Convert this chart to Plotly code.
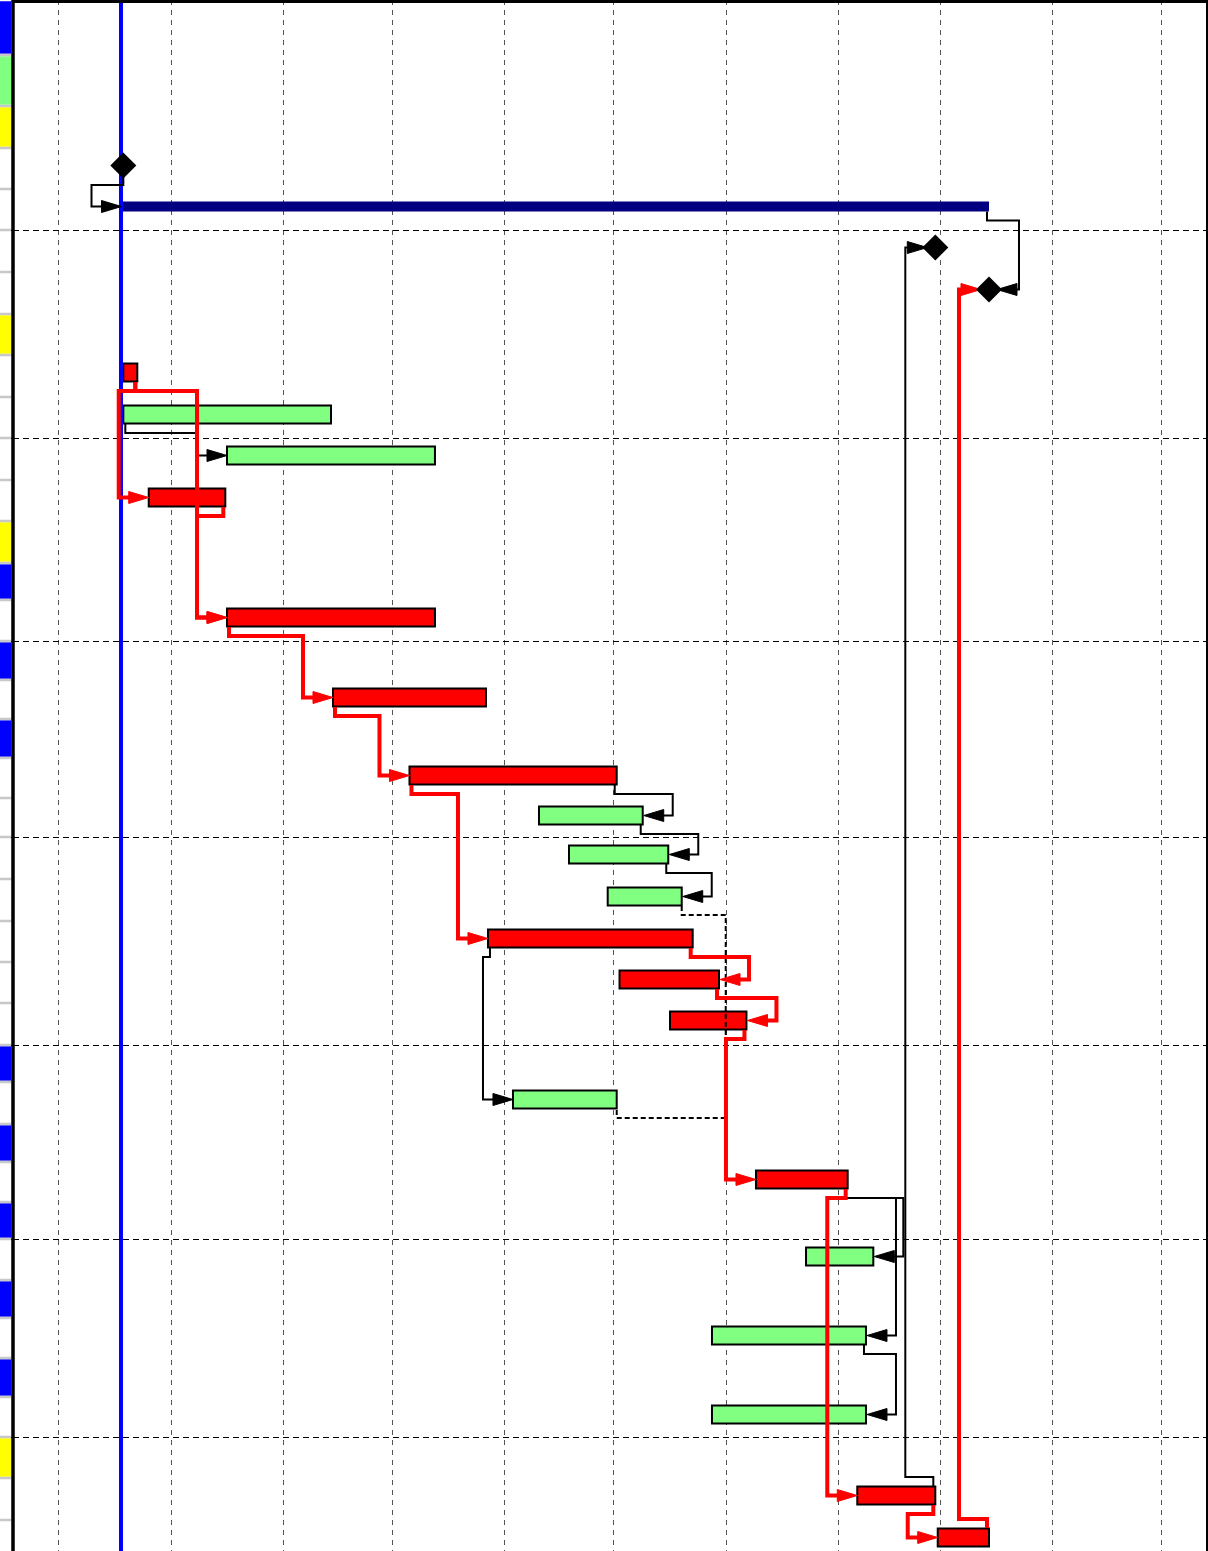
import pandas as pd
import plotly.graph_objects as go

# ------------------------------------------------------------------ data
# left strip (task-table edge): colour flag of every row, top to bottom
ROW_FLAG = ["blue", "green", "yellow", "white", "white", "white", "white", "yellow",
            "white", "white", "white", "white", "yellow", "blue", "white", "blue",
            "white", "blue", "white", "white", "white", "white", "white", "white",
            "white", "blue", "white", "blue", "white", "blue", "white", "blue",
            "white", "blue", "white", "yellow", "white", "white"]

# tasks: row, kind, start, finish
TASK_ROW = [3, 4, 5, 6, 8, 9, 10, 11, 14, 16, 18, 19, 20, 21, 22, 23, 24, 26, 28, 30, 32, 34, 36, 37]
TASK_KIND = ["milestone", "summary", "milestone", "milestone", "critical", "normal", "normal",
             "critical", "critical", "critical", "critical", "normal", "normal", "normal",
             "critical", "critical", "critical", "normal", "critical", "normal", "normal",
             "normal", "critical", "critical"]
TASK_START = ["2022-07-18 20:00", "2022-07-18 08:00", "2023-02-27 14:00", "2023-03-14 09:00",
              "2022-07-18 20:00", "2022-07-18 20:00", "2022-08-16 09:40", "2022-07-25 20:00",
              "2022-08-16 09:40", "2022-09-14 14:40", "2022-10-05 16:30", "2022-11-10 09:00",
              "2022-11-18 15:30", "2022-11-29 07:30", "2022-10-27 07:40", "2022-12-02 13:30",
              "2022-12-16 11:30", "2022-11-03 05:00", "2023-01-09 04:00", "2023-01-22 23:00",
              "2022-12-28 01:00", "2022-12-28 01:00", "2023-02-06 02:00", "2023-02-28 06:00"]
TASK_END = ["2022-07-18 20:00", "2023-03-14 09:00", "2023-02-27 14:00", "2023-03-14 09:00",
            "2022-07-22 16:30", "2022-09-14 01:30", "2022-10-12 17:00", "2022-08-15 22:30",
            "2022-10-12 17:00", "2022-10-26 18:30", "2022-12-01 19:00", "2022-12-08 23:00",
            "2022-12-16 00:00", "2022-12-19 17:00", "2022-12-22 17:30", "2022-12-29 23:30",
            "2023-01-06 13:00", "2022-12-01 19:00", "2023-02-03 10:30", "2023-02-10 12:00",
            "2023-02-08 11:30", "2023-02-08 11:30", "2023-02-27 14:00", "2023-03-14 09:00"]

# dependency links (by row): predecessor, successor, type, style
LINK_FROM = [3, 4, 36, 37, 8, 8, 11, 9, 14, 16, 18, 18, 19, 20, 21, 22, 23, 24, 22, 28, 28, 28, 32, 36]
LINK_TO = [4, 6, 5, 6, 11, 14, 14, 10, 16, 18, 22, 19, 20, 21, 26, 23, 24, 28, 26, 36, 30, 32, 34, 37]
LINK_TYPE = ["FS", "FF", "FS", "FS", "FS", "FS", "FS", "SS", "SS", "SS", "SS", "FF", "FF", "FF",
             "FF", "FF", "FF", "FS", "SS", "FS", "FF", "FF", "FF", "FS"]
LINK_STYLE = ["normal", "normal", "normal", "critical", "critical", "critical", "critical",
              "normal", "critical", "critical", "critical", "normal", "normal", "normal",
              "dashed", "critical", "critical", "critical", "normal", "critical", "normal",
              "normal", "normal", "critical"]

STATUS_DATE = "2022-07-18 04:36"
MONTH_GRID_START = "2022-07-01"
GRID_EVERY_ROWS = 5

# ------------------------------------------------------------------ layout / style
W, H = 1208, 1551
PLOT_X0, PLOT_X1 = 13, 1207
STRIP_X1 = 11.5
X_RANGE = [pd.Timestamp("2022-06-18 10:26"), pd.Timestamp("2023-05-13 10:48")]
ROW_HEIGHTS = [55, 51, 42, 41, 41, 42, 42, 41, 42, 41, 42, 41, 42, 37, 41, 39, 39, 39, 40,
               39, 42, 42, 41, 41, 42, 37, 42, 38, 40, 37, 41, 38, 40, 39, 40, 41, 42, 42]
BAR_OFFSET = 17.5
BAR_H = 18
SUMMARY_H = 10
HALF = {"milestone": 10.5, "summary": 5, "critical": 9.5, "normal": 9.5}
FLAG_COLORS = {"blue": "#0000FF", "green": "#80FF80", "yellow": "#FFFF00", "white": "#FFFFFF"}
RED, GREEN, NAVY = "#FF0000", "#80FF80", "#000080"

TD_PER_PX = (X_RANGE[1] - X_RANGE[0]) / (PLOT_X1 - PLOT_X0)


def px(n):
    return TD_PER_PX * n


row_top = [0]
for h in ROW_HEIGHTS:
    row_top.append(row_top[-1] + h)


def yc(row):
    return row_top[row] + BAR_OFFSET


starts = [pd.Timestamp(s) for s in TASK_START]
ends = [pd.Timestamp(s) for s in TASK_END]
idx_of_row = {r: i for i, r in enumerate(TASK_ROW)}

fig = go.Figure()

# ------------------------------------------------------------------ left strip
fig.add_trace(go.Bar(
    orientation="h", xaxis="x2", yaxis="y",
    base=[0] * len(ROW_FLAG), x=[1] * len(ROW_FLAG),
    y=[row_top[i] + ROW_HEIGHTS[i] / 2 for i in range(len(ROW_FLAG))],
    width=[h - 2.5 for h in ROW_HEIGHTS],
    marker=dict(color=[FLAG_COLORS[f] for f in ROW_FLAG], line=dict(width=0)),
    hoverinfo="skip", showlegend=False))

shapes = []
for i in range(1, len(ROW_FLAG)):
    shapes.append(dict(type="line", xref="x2", yref="y", x0=0, x1=1,
                       y0=row_top[i], y1=row_top[i],
                       line=dict(color="#C8C8C8", width=2.5), layer="above"))

# ------------------------------------------------------------------ status line
fig.add_trace(go.Scatter(x=[STATUS_DATE, STATUS_DATE], y=[0, H], mode="lines",
                         line=dict(color="#0000FF", width=4), hoverinfo="skip",
                         showlegend=False))

# ------------------------------------------------------------------ bars
for kind, color, width, lw in [("summary", NAVY, SUMMARY_H, 0),
                                ("normal", GREEN, BAR_H, 2),
                                ("critical", RED, BAR_H, 2)]:
    ids = [i for i, k in enumerate(TASK_KIND) if k == kind]
    fig.add_trace(go.Bar(
        orientation="h",
        base=[TASK_START[i] for i in ids],
        x=[(ends[i] - starts[i]).total_seconds() * 1000 for i in ids],
        y=[yc(TASK_ROW[i]) for i in ids],
        width=width,
        marker=dict(color=color, line=dict(color="#000000", width=lw)),
        hoverinfo="skip", showlegend=False))

# ------------------------------------------------------------------ links
paths = {"critical": ([], []), "normal": ([], []), "dashed": ([], [])}
heads = {"critical": ([], []), "normal": ([], [])}
HEAD_L, HEAD_W = 20, 6

for pr, sr, typ, sty in zip(LINK_FROM, LINK_TO, LINK_TYPE, LINK_STYLE):
    p, s = idx_of_row[pr], idx_of_row[sr]
    kp, ks = TASK_KIND[p], TASK_KIND[s]
    down = sr > pr
    sign = 1 if down else -1
    # leaving point
    if kp == "milestone":
        sx = starts[p]
    elif typ == "SS":
        sx = starts[p] + px(2)
    else:
        sx = ends[p] - px(2)
    sy0 = yc(pr) + sign * HALF[kp]
    lvl = sy0 + sign * 9
    ty = yc(sr)
    xs, ys = paths[sty]
    if sty == "dashed":
        rx = max(ends[p], ends[s]) + px(44)
        lvl_s = yc(sr) + HALF[ks] + 9
        pts = [(ends[p], sy0), (ends[p], lvl), (rx, lvl), (rx, lvl_s),
               (ends[s], lvl_s), (ends[s], yc(sr) + HALF[ks])]
        for x, y in pts:
            xs.append(x); ys.append(y)
        xs.append(None); ys.append(None)
        continue
    if typ == "FF":
        rx = max(ends[p], ends[s]) + px(30)
        tip = ends[s] + (px(8) if ks == "milestone" else px(1))
        d = -1  # arrow points left
    else:
        rx = starts[s] - px(30)
        tip = starts[s] - (px(8) if ks == "milestone" else px(0))
        d = 1   # arrow points right
    end_line = tip - d * px(10)
    pts = [(sx, sy0), (sx, lvl), (rx, lvl), (rx, ty), (end_line, ty)]
    for x, y in pts:
        xs.append(x); ys.append(y)
    xs.append(None); ys.append(None)
    hx, hy = heads[sty]
    base_x = tip - d * px(HEAD_L)
    hx += [tip, base_x, base_x, tip, None]
    hy += [ty, ty - HEAD_W, ty + HEAD_W, ty, None]

fig.add_trace(go.Scatter(x=paths["normal"][0], y=paths["normal"][1], mode="lines",
                         line=dict(color="#000000", width=2), hoverinfo="skip",
                         showlegend=False, connectgaps=False))
fig.add_trace(go.Scatter(x=paths["dashed"][0], y=paths["dashed"][1], mode="lines",
                         line=dict(color="#000000", width=2, dash="5px,3px"),
                         hoverinfo="skip", showlegend=False, connectgaps=False))
fig.add_trace(go.Scatter(x=paths["critical"][0], y=paths["critical"][1], mode="lines",
                         line=dict(color=RED, width=4), hoverinfo="skip",
                         showlegend=False, connectgaps=False))
for sty, col in [("normal", "#000000"), ("critical", RED)]:
    fig.add_trace(go.Scatter(x=heads[sty][0], y=heads[sty][1], mode="lines",
                             fill="toself", fillcolor=col,
                             line=dict(color=col, width=1), hoverinfo="skip",
                             showlegend=False))

# ------------------------------------------------------------------ milestones
ms = [i for i, k in enumerate(TASK_KIND) if k == "milestone"]
fig.add_trace(go.Scatter(x=[TASK_START[i] for i in ms], y=[yc(TASK_ROW[i]) for i in ms],
                         mode="markers",
                         marker=dict(symbol="diamond", size=20, color="#000000",
                                     line=dict(width=0)),
                         hoverinfo="skip", showlegend=False))

# ------------------------------------------------------------------ frame
shapes += [
    dict(type="line", xref="paper", yref="paper", x0=PLOT_X0 / W, x1=PLOT_X0 / W, y0=0, y1=1,
         line=dict(color="#000000", width=3.5)),
    dict(type="line", xref="paper", yref="paper", x0=(PLOT_X0 - 1) / W, x1=1,
         y0=1 - 1.5 / H, y1=1 - 1.5 / H, line=dict(color="#000000", width=3)),
    dict(type="line", xref="paper", yref="paper", x0=PLOT_X1 / W, x1=PLOT_X1 / W, y0=0, y1=1,
         line=dict(color="#000000", width=2)),
]

grid_rows = [row_top[r] for r in range(GRID_EVERY_ROWS, len(ROW_HEIGHTS), GRID_EVERY_ROWS)]

fig.update_layout(
    width=W, height=H, margin=dict(l=0, r=0, t=0, b=0),
    paper_bgcolor="#FFFFFF", plot_bgcolor="#FFFFFF",
    barmode="overlay", showlegend=False, shapes=shapes,
    xaxis=dict(type="date", domain=[PLOT_X0 / W, PLOT_X1 / W], range=X_RANGE,
               tick0=MONTH_GRID_START, dtick="M1", showgrid=True, gridcolor="#555555",
               griddash="5px,5px", gridwidth=1, showticklabels=False, ticks="",
               zeroline=False, showline=False, fixedrange=True),
    xaxis2=dict(domain=[0, STRIP_X1 / W], range=[0, 1], anchor="y", showgrid=False,
                showticklabels=False, zeroline=False, ticks="", fixedrange=True),
    yaxis=dict(range=[H, 0], tickmode="array", tickvals=grid_rows, showgrid=True,
               gridcolor="#000000", griddash="6px,4px", gridwidth=1,
               showticklabels=False, ticks="", zeroline=False, showline=False,
               fixedrange=True),
)

fig.write_html("out.html", config={"displayModeBar": False},
               post_script="document.body.style.margin='0';document.body.style.overflow='hidden';")
